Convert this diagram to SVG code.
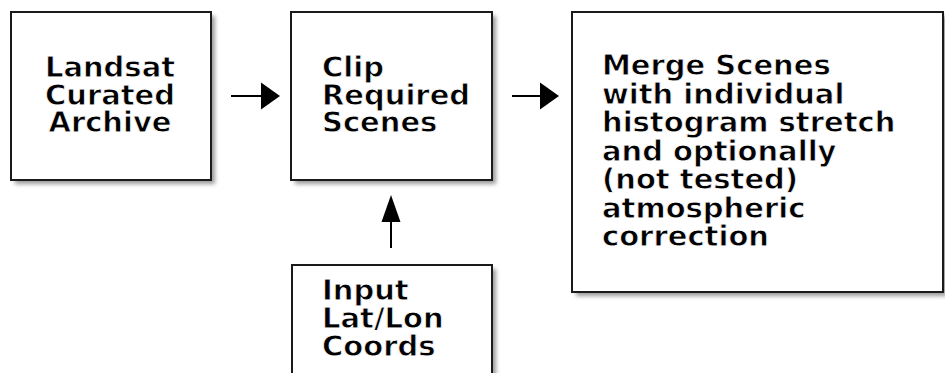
<svg xmlns="http://www.w3.org/2000/svg" width="945" height="373" viewBox="0 0 945 373">
  <style>
    .box { fill: #ffffff; stroke: #1a1a1a; stroke-width: 2; }
    .shadow { fill: #9a9a9a; filter: url(#soft); }
    /* bold face, trimmed slightly by a white outline drawn over the fill */
    .label { font-family: "DejaVu Sans", "Liberation Sans", sans-serif; font-weight: bold; font-size: 29px; fill: #000000; stroke: #ffffff; stroke-width: 0.8px; paint-order: fill stroke; }
    .mid { text-anchor: middle; }
    .wire { stroke: #000000; stroke-width: 2; fill: none; }
    .head { fill: #000000; }
  </style>
  <defs>
    <filter id="soft" x="-10%" y="-10%" width="120%" height="120%">
      <feGaussianBlur stdDeviation="2.2"/>
    </filter>
  </defs>
  <rect width="945" height="373" fill="#ffffff"/>

  <g id="landsat-archive">
    <rect class="shadow" x="15" y="16" width="200" height="168"/>
    <rect class="box" x="11" y="12" width="200" height="168"/>
    <text class="label mid" x="110" y="77">Landsat</text>
    <text class="label mid" x="110" y="104.5">Curated</text>
    <text class="label mid" x="110" y="132">Archive</text>
  </g>

  <g id="clip-scenes">
    <rect class="shadow" x="295" y="16" width="201" height="168"/>
    <rect class="box" x="291" y="12" width="201" height="168"/>
    <text class="label" x="322" y="77">Clip</text>
    <text class="label" x="322" y="104.5">Required</text>
    <text class="label" x="322" y="132">Scenes</text>
  </g>

  <g id="merge-scenes">
    <rect class="shadow" x="576" y="16" width="371" height="280"/>
    <rect class="box" x="572" y="12" width="371" height="280"/>
    <text class="label" x="602" y="75">Merge Scenes</text>
    <text class="label" x="602" y="103.5">with individual</text>
    <text class="label" x="602" y="132">histogram stretch</text>
    <text class="label" x="602" y="160.5">and optionally</text>
    <text class="label" x="602" y="189">(not tested)</text>
    <text class="label" x="602" y="217.5">atmospheric</text>
    <text class="label" x="602" y="246">correction</text>
  </g>

  <g id="input-coords">
    <rect class="shadow" x="296" y="269" width="200" height="120"/>
    <rect class="box" x="292" y="265" width="200" height="120"/>
    <text class="label" x="322" y="300">Input</text>
    <text class="label" x="322" y="328">Lat/Lon</text>
    <text class="label" x="322" y="356">Coords</text>
  </g>

  <g id="connectors">
    <line class="wire" x1="231" y1="96" x2="263" y2="96"/>
    <polygon class="head" points="261,82.5 280,96 261,109.5"/>
    <line class="wire" x1="512" y1="96" x2="542" y2="96"/>
    <polygon class="head" points="540,82.5 559,96 540,109.5"/>
    <line class="wire" x1="391" y1="248" x2="391" y2="220"/>
    <polygon class="head" points="381.5,222 391,195 400.5,222"/>
  </g>
</svg>
